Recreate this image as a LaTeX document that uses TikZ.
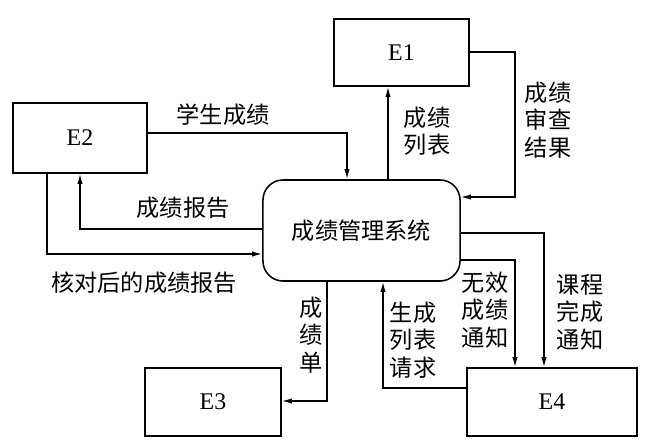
\documentclass[tikz,border=0pt]{standalone}
\usepackage{fontspec}
\setmainfont{Liberation Serif}
\newfontfamily\cjk{Noto Sans CJK SC}
\usetikzlibrary{arrows.meta}
\begin{document}
\begin{tikzpicture}[x=0.025cm,y=-0.025cm,
  ent/.style={draw,line width=1.1pt,inner sep=0pt,font=\fontsize{17}{20}\selectfont},
  sysbox/.style={draw,line width=1.1pt,rounded corners=0.5cm,inner sep=0pt,font=\cjk\fontsize{16.5}{19}\selectfont},
  flow/.style={line width=0.9pt,-{Latex[length=0.25cm,width=0.13cm]}},
  lab/.style={font=\cjk\fontsize{16.5}{19.5}\selectfont,align=center,inner sep=0pt}]
\useasboundingbox (0,0) rectangle (646,444);
\node[ent,minimum width=3.375cm,minimum height=1.675cm] (E1) at (401.5,52.5) {E1};
\node[ent,minimum width=3.35cm,minimum height=1.75cm] (E2) at (80,138) {E2};
\node[sysbox,minimum width=4.925cm,minimum height=2.525cm] (sys) at (361.5,230.5) {成绩管理系统};
\node[ent,minimum width=3.4cm,minimum height=1.7cm] (E3) at (213,402) {E3};
\node[ent,minimum width=4.25cm,minimum height=1.7cm] (E4) at (552,402) {E4};

\draw[flow] (E2.east |- 0,133) -| (347,0 |- sys.north);
\node[lab] (l1) at (223,115) {学生成绩};
\draw[flow] (388,0 |- sys.north) -- (388,0 |- E1.south);
\node[lab] (l2) at (427,131) {成绩\\列表};
\draw[flow] (E1.east |- 0,52) -| (515,197) -- (sys.east |- 0,197);
\node[lab] (l3) at (548,120) {成绩\\审查\\结果};
\draw[flow] (sys.west |- 0,229) -| (80,0 |- E2.south);
\node[lab] (l4) at (183,208) {成绩报告};
\draw[flow] (47,0 |- E2.south) |- (sys.west |- 0,254);
\node[lab] (l5) at (144,283) {核对后的成绩报告};
\draw[flow] (327,0 |- sys.south) |- (E3.east |- 0,401);
\node[lab] (l6) at (311,335) {成\\绩\\单};
\draw[flow] (E4.west |- 0,388) -| (383,0 |- sys.south);
\node[lab] (l7) at (413,340) {生成\\列表\\请求};
\draw[flow] (sys.east |- 0,260) -| (515,0 |- E4.north);
\node[lab] (l8) at (485,310) {无效\\成绩\\通知};
\draw[flow] (sys.east |- 0,233) -| (544,0 |- E4.north);
\node[lab] (l9) at (580,312) {课程\\完成\\通知};
\end{tikzpicture}
\end{document}
